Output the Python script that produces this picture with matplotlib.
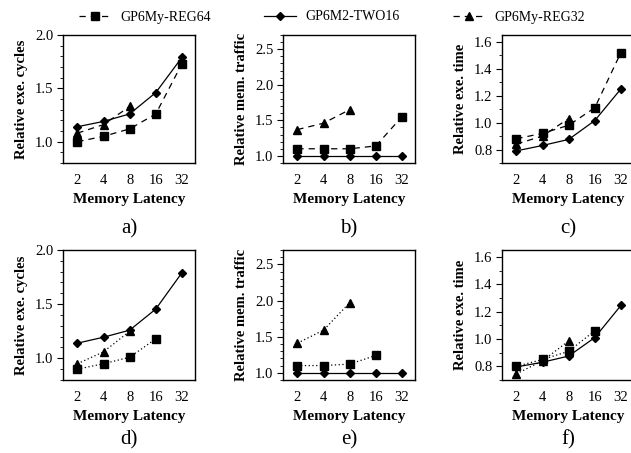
import matplotlib.pyplot as plt
from matplotlib.ticker import MultipleLocator

plt.rcParams['font.family'] = ['Liberation Serif', 'DejaVu Serif']

latency = ['2', '4', '8', '16', '32']
series_names = ['GP6My-REG64', 'GP6M2-TWO16', 'GP6My-REG32']

# top row (a, b, c)
cycles_reg64 = [1.00, 1.05, 1.12, 1.26, 1.73]
cycles_two16 = [1.14, 1.19, 1.26, 1.46, 1.79]
cycles_reg32 = [1.08, 1.16, 1.33]
traffic_reg64 = [1.10, 1.10, 1.10, 1.14, 1.55]
traffic_two16 = [1.00, 1.00, 1.00, 1.00, 1.00]
traffic_reg32 = [1.37, 1.46, 1.65]
time_reg64 = [0.88, 0.92, 0.98, 1.11, 1.52]
time_two16 = [0.79, 0.83, 0.875, 1.015, 1.25]
time_reg32 = [0.84, 0.90, 1.03]

# bottom row (d, e, f)
cycles2_reg64 = [0.90, 0.95, 1.01, 1.18]
cycles2_two16 = [1.14, 1.195, 1.26, 1.455, 1.79]
cycles2_reg32 = [0.95, 1.06, 1.25]
traffic2_reg64 = [1.10, 1.10, 1.12, 1.24]
traffic2_two16 = [1.00, 1.00, 1.00, 1.00, 1.00]
traffic2_reg32 = [1.41, 1.59, 1.97]
time2_reg64 = [0.80, 0.85, 0.91, 1.06]
time2_two16 = [0.795, 0.83, 0.875, 1.01, 1.245]
time2_reg32 = [0.745, 0.84, 0.985]

ylabels = ['Relative exe. cycles', 'Relative mem. traffic', 'Relative exe. time']
captions = ['a)', 'b)', 'c)', 'd)', 'e)', 'f)']

panels = [
    (cycles_reg64, cycles_two16, cycles_reg32),
    (traffic_reg64, traffic_two16, traffic_reg32),
    (time_reg64, time_two16, time_reg32),
    (cycles2_reg64, cycles2_two16, cycles2_reg32),
    (traffic2_reg64, traffic2_two16, traffic2_reg32),
    (time2_reg64, time2_two16, time2_reg32),
]
ylims = [(0.8, 2.0), (0.9, 2.7), (0.7, 1.65)]
ymajor = [0.5, 0.5, 0.2]
yminor = [0.1, 0.1, 0.1]

fig = plt.figure(figsize=(6.31, 4.53), dpi=100)
W, H = 631, 453
lefts = [63, 283, 502]
rows = [(35, 163), (250, 380)]
width = 132

dashed = (0, (5, 4))
dotted = (0, (1, 2))

handles = None
for i, (reg64, two16, reg32) in enumerate(panels):
    r, c = divmod(i, 3)
    top, bot = rows[r]
    ax = fig.add_axes([lefts[c] / W, 1 - bot / H, width / W, (bot - top) / H])
    ls = dashed if r == 0 else dotted
    l3, = ax.plot(range(len(reg32)), reg32, color='black', lw=0.9, ls=ls,
                  marker='^', ms=6, label=series_names[2])
    l2, = ax.plot(range(len(two16)), two16, color='black', lw=0.9, ls='-',
                  marker='D', ms=4, label=series_names[1])
    l1, = ax.plot(range(len(reg64)), reg64, color='black', lw=0.9, ls=ls,
                  marker='s', ms=6, label=series_names[0])
    if i == 0:
        handles = [l1, l2, l3]

    ax.set_xlim(-0.55, 4.5)
    ax.set_xticks(range(len(latency)))
    ax.set_xticklabels(latency)
    ax.set_ylim(*ylims[c])
    ax.yaxis.set_major_locator(MultipleLocator(ymajor[c]))
    ax.yaxis.set_minor_locator(MultipleLocator(yminor[c]))
    ax.yaxis.set_major_formatter(plt.FormatStrFormatter('%.1f'))
    ax.tick_params(axis='x', length=0, pad=8, labelsize=10.5)
    ax.tick_params(axis='y', which='major', length=4, width=0.8, pad=3, labelsize=10.5)
    ax.tick_params(axis='y', which='minor', length=2.5, width=0.6)
    for s in ax.spines.values():
        s.set_linewidth(1.0)

    ax.set_xlabel('Memory Latency', fontsize=11, fontweight='bold', labelpad=4)
    ax.set_ylabel(ylabels[c], fontsize=10.5, fontweight='bold', labelpad=5)
    ax.text(0.5, (bot - (229 if r == 0 else 440)) / (bot - top), captions[i],
            transform=ax.transAxes, ha='center', va='center', fontsize=15)

fig.legend(handles=handles, labels=series_names,
           loc='center', bbox_to_anchor=(332 / W, 1 - 17 / H), ncol=3,
           frameon=False, fontsize=10, handlelength=2.3, handletextpad=0.7,
           columnspacing=3.8)

fig.savefig('out.png', dpi=100)
